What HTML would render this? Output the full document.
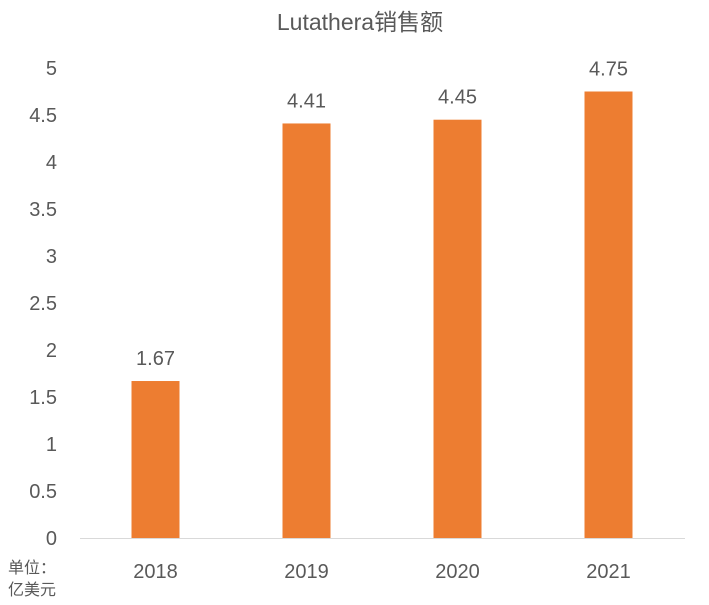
<!DOCTYPE html>
<html><head><meta charset="utf-8"><style>
body{margin:0;background:#fff;width:709px;height:600px;overflow:hidden}
svg text{font-family:"Liberation Sans","Noto Sans CJK SC",sans-serif;fill:#595959}
</style></head><body>
<svg id="chart" width="709" height="600">
<text x="360" y="30" font-size="23" text-anchor="middle">Lutathera销售额</text>
<line x1="80" y1="538.5" x2="685" y2="538.5" stroke="#d9d9d9" stroke-width="1"/>
<text x="8" y="573" font-size="16">单位：</text>
<text x="8" y="595" font-size="16">亿美元</text>
<g id="g"></g>
</svg>
<script>
const categories=["2018","2019","2020","2021"];
const values=[1.67,4.41,4.45,4.75];
const yTicks=["0","0.5","1","1.5","2","2.5","3","3.5","4","4.5","5"];
const NS="http://www.w3.org/2000/svg";
const g=document.getElementById('g');
const y=v=>538-v*94;
const x=i=>80+151*(i+0.5);
function mk(t,a){const e=document.createElementNS(NS,t);for(const k in a)e.setAttribute(k,a[k]);g.appendChild(e);return e;}
yTicks.forEach(t=>{const e=mk('text',{x:57,y:y(parseFloat(t))+7,'font-size':20,'text-anchor':'end'});e.textContent=t;

});
categories.forEach((c,i)=>{
const b=mk('rect',{x:x(i)-24,y:y(values[i]),width:48,height:538-y(values[i]),fill:'#ED7D31'});


const l=mk('text',{x:x(i),y:y(values[i])-16,'font-size':20,'text-anchor':'middle'});l.textContent=values[i].toFixed(2);


const xl=mk('text',{x:x(i),y:578,'font-size':20,'text-anchor':'middle'});xl.textContent=c;


});
</script>
</body></html>
